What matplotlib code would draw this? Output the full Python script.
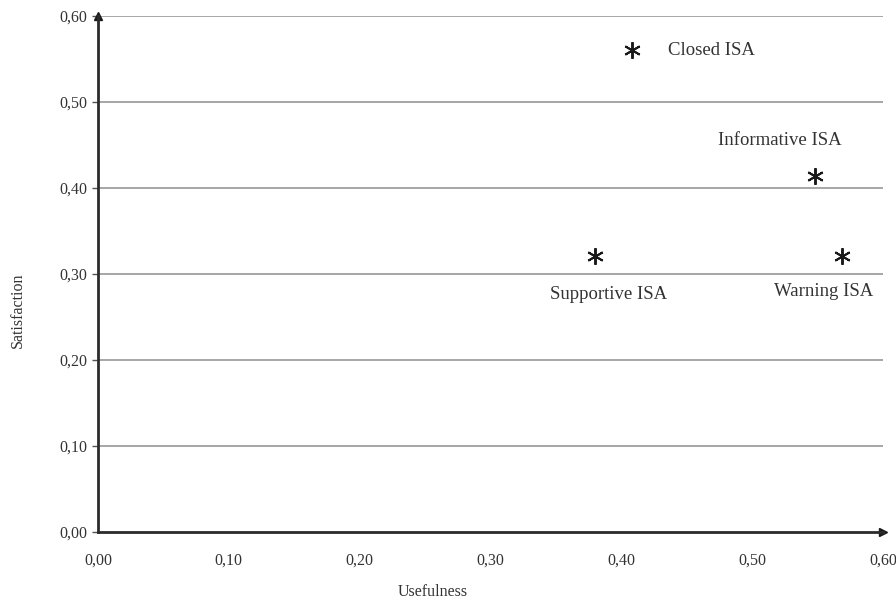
import matplotlib

matplotlib.use('Agg')
import matplotlib.pyplot as plt
import matplotlib.ticker as ticker

# ISA variants: usefulness vs satisfaction
names = ['Closed ISA', 'Informative ISA', 'Supportive ISA', 'Warning ISA']
usefulness = [0.408, 0.548, 0.380, 0.569]
satisfaction = [0.560, 0.414, 0.321, 0.321]
# label offsets in pixels from each point (up is positive), with alignment
label_offsets = [(36, 0, 'left'), (-35, 35, 'center'), (13, -39, 'center'), (-19, -36, 'center')]

ticks = [0.0, 0.1, 0.2, 0.3, 0.4, 0.5, 0.6]

TEXT_COLOR = '#333333'
plt.rcParams['font.family'] = ['Liberation Serif', 'DejaVu Serif']

fig = plt.figure(figsize=(8.96, 6.01), dpi=100)
ax = fig.add_axes([0.1094, 0.1148, 0.8761, 0.8585])

# horizontal grid
for t in ticks[1:]:
    ax.axhline(t, color='#a6a6a6', linewidth=1.4, zorder=1)

ax.plot(usefulness, satisfaction, linestyle='none', marker=(6, 2, 0),
        markersize=12, markeredgewidth=1.4, color='#1a1a1a', zorder=3)

for n, x, y, (dx, dy, ha) in zip(names, usefulness, satisfaction, label_offsets):
    ax.annotate(n, (x, y), xytext=(dx, dy), textcoords='offset pixels',
                ha=ha, va='center', fontsize=13.5, color=TEXT_COLOR)

ax.set_xlim(0, 0.6)
ax.set_ylim(0, 0.6)
ax.xaxis.set_major_locator(ticker.FixedLocator(ticks))
ax.yaxis.set_major_locator(ticker.FixedLocator(ticks))
fmt = ticker.FuncFormatter(lambda v, p: ('%.2f' % v).replace('.', ','))
ax.xaxis.set_major_formatter(fmt)
ax.yaxis.set_major_formatter(fmt)
ax.tick_params(axis='x', length=0, pad=15, labelsize=11.5, labelcolor=TEXT_COLOR)
ax.tick_params(axis='y', length=4, width=1, color='#555555', pad=4,
               labelsize=11.5, labelcolor=TEXT_COLOR)

ax.spines['top'].set_visible(False)
ax.spines['right'].set_visible(False)
for s in ['left', 'bottom']:
    ax.spines[s].set_linewidth(2)
    ax.spines[s].set_color('#2b2b2b')

# arrow heads at the axis ends
ax.plot(0, 1, marker='^', markersize=6, color='#1a1a1a', transform=ax.transAxes, clip_on=False)
ax.plot(1, 0, marker='>', markersize=6, color='#1a1a1a', transform=ax.transAxes, clip_on=False)

ax.set_xlabel('Usefulness', fontsize=11.5, color=TEXT_COLOR, labelpad=11, x=0.427)
ax.set_ylabel('Satisfaction', fontsize=11.5, color=TEXT_COLOR, labelpad=24, y=0.43)

fig.savefig('out.png', dpi=100)
